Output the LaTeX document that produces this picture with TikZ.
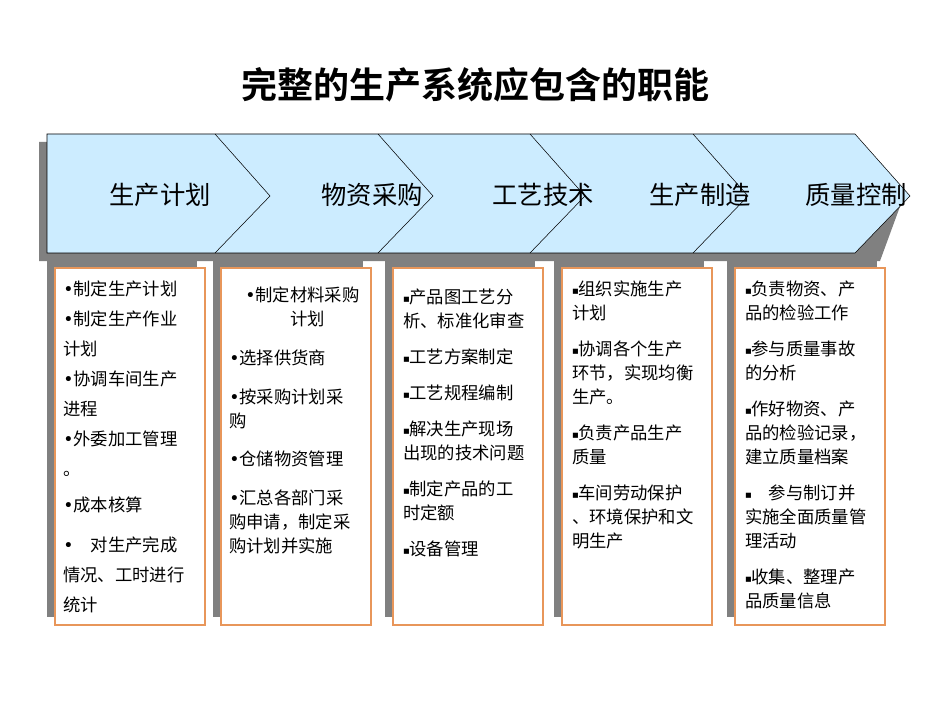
\documentclass[tikz,border=0pt]{standalone}
\usepackage{fontspec}
\setmainfont{Noto Sans CJK SC}
\newfontfamily\titlefont{Noto Sans CJK SC Bold}
\newfontfamily\symfont{DejaVu Sans}
\usetikzlibrary{positioning, calc}
\definecolor{bandblue}{RGB}{204,236,255}
\definecolor{shadowgray}{RGB}{128,128,128}
\definecolor{boxorange}{RGB}{232,150,90}
\newcommand{\sq}{\raisebox{2pt}{\symfont\tiny ■}}
\newcommand{\dt}{{\symfont •}}
\tikzset{shade/.style={fill=shadowgray, draw=none},
itembox/.style={draw=boxorange, fill=white, thick},
itemtext/.style={anchor=north west, text width=145*0.75pt, align=left, inner sep=0pt, font=\fontsize{13}{18}\selectfont},
steplabel/.style={font=\fontsize{19}{22}\selectfont}
}
\begin{document}
\begin{tikzpicture}[x=0.75pt, y=-0.75pt]
\useasboundingbox (0,0) rectangle (950,713);
\node[font=\titlefont\fontsize{27}{30}\selectfont] (title) at (475,85) {完整的生产系统应包含的职能};

% shadows
\fill[shade] (39,142) -- (847,142) -- (902,201) -- (880,261) -- (39,261) -- cycle;
\foreach \x in {47,213,385,554,727}
  \fill[shade] (\x,255) rectangle ++(150,362);
\fill[white] (197,262) rectangle (213,268);
\fill[white] (535,262) rectangle (554,268);
\fill[white] (704,262) rectangle (727,268);
\fill[white] (369,262) rectangle (385,268);

% band
\fill[bandblue, draw=black] (47,134) -- (855,134) -- (910,196) -- (855,253) -- (47,253) -- cycle;
\foreach \x in {215,378,530,693}
  \draw (\x,134) -- (\x+55,196) -- (\x,253);

\node[steplabel] (plan) at (160,195) {生产计划};
\node[steplabel] (buy) at (372,195) {物资采购};
\node[steplabel] (tech) at (543,195) {工艺技术};
\node[steplabel] (make) at (700,195) {生产制造};
\node[steplabel] (qual) at (856,195) {质量控制};

% boxes
\foreach \x in {55,221,393,562,735}
  \draw[itembox] (\x,268) rectangle ++(150,357);

\node[itemtext, font=\fontsize{13}{22.5}\selectfont] (planlist) at (63,281) {\dt 制定生产计划\\\dt 制定生产作业\\计划\\\dt 协调车间生产\\进程\\\dt 外委加工管理\\。\\[4pt]\dt 成本核算\\[8pt]\dt\quad 对生产完成\\情况、工时进行\\统计};
\node[itemtext] (buylist) at (229,287) {\hspace*{12pt}\dt 制定材料采购\\\hspace*{46pt}计划\\[11pt]\dt 选择供货商\\[11pt]\dt 按采购计划采\\购\\[11pt]\dt 仓储物资管理\\[11pt]\dt 汇总各部门采\\购申请，制定采\\购计划并实施};
\node[itemtext] (techlist) at (403,289) {\sq 产品图工艺分\\析、标准化审查\\[9pt]\sq 工艺方案制定\\[9pt]\sq 工艺规程编制\\[9pt]\sq 解决生产现场\\出现的技术问题\\[9pt]\sq 制定产品的工\\时定额\\[9pt]\sq 设备管理};
\node[itemtext] (makelist) at (572,281) {\sq 组织实施生产\\计划\\[9pt]\sq 协调各个生产\\环节，实现均衡\\生产。\\[9pt]\sq 负责产品生产\\质量\\[9pt]\sq 车间劳动保护\\、环境保护和文\\明生产};
\node[itemtext] (quallist) at (745,281) {\sq 负责物资、产\\品的检验工作\\[9pt]\sq 参与质量事故\\的分析\\[9pt]\sq 作好物资、产\\品的检验记录，\\建立质量档案\\[9pt]\sq\quad 参与制订并\\实施全面质量管\\理活动\\[9pt]\sq 收集、整理产\\品质量信息};
\end{tikzpicture}
\end{document}
